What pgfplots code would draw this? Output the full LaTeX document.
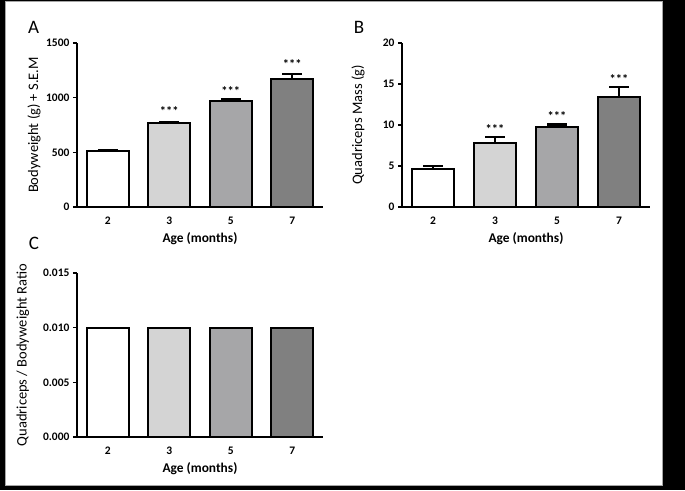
\documentclass[border=0pt]{standalone}
\usepackage{fontspec}
\setmainfont{Carlito}
\usepackage{pgfplots}
\pgfplotsset{compat=1.18}

\definecolor{gtwo}{HTML}{FFFFFF}
\definecolor{gthree}{HTML}{D4D4D4}
\definecolor{gfive}{HTML}{A6A6A8}
\definecolor{gseven}{HTML}{808080}

\tikzset{stars/.style={font=\bfseries\fontsize{12.5}{14}\selectfont}}

\pgfplotsset{
  panel/.style={
    scale only axis, width=246pt, height=164pt,
    xmin=-0.5, xmax=3.5, ymin=0,
    axis x line*=bottom, axis y line*=left,
    axis line style={line width=1.4pt, -},
    xtick={0,1,2,3}, xticklabels={2,3,5,7},
    x tick style={draw=none},
    y tick style={line width=1.2pt, black},
    tick align=outside, major tick length=4pt,
    tick label style={font=\bfseries\fontsize{11.5}{13}\selectfont},
    /pgf/number format/assume math mode=true,
    /pgf/number format/1000 sep={},
    x tick label style={anchor=center, yshift=-9.5pt},
    xlabel={Age (months)},
    every axis x label/.style={at={(axis description cs:0.5,0)}, anchor=center, yshift=-32pt,
      font=\bfseries\fontsize{13.4}{15}\selectfont},
    ylabel style={font=\fontsize{14.5}{16}\selectfont, anchor=center},
  },
  agebar/.style={ybar, bar shift=0pt, bar width=0.68, draw=black, line width=2.2pt, fill=#1},
  witherr/.style={error bars/.cd, y dir=plus, y explicit,
    error bar style={line width=2.2pt},
    error mark options={rotate=90, line width=2.2pt, mark size=10pt}},
}

\begin{document}
\begin{tikzpicture}[x=1pt, y=1pt]
\fill[black] (0,0) rectangle (685,490);
\filldraw[fill=white, draw=gray!70, line width=1pt] (5,5) rectangle (662,488);

\node[font=\fontsize{19}{22}\selectfont] at (33.5,463) {A};
\node[font=\fontsize{19}{22}\selectfont] at (359,462.5) {B};
\node[font=\fontsize{19}{22}\selectfont] at (34,247) {C};

% A: bodyweight
\begin{axis}[panel, at={(77pt,283pt)}, anchor=south west,
    ymax=1500, ytick={0,500,1000,1500},
    ylabel={Bodyweight (g) + S.E.M},
    ylabel style={at={(axis description cs:-0.175,0.5)}}]
\addplot[agebar=gtwo, witherr] coordinates {(0,510) +- (0,10)};
\addplot[agebar=gthree, witherr] coordinates {(1,765) +- (0,15)};
\addplot[agebar=gfive, witherr] coordinates {(2,970) +- (0,15)};
\addplot[agebar=gseven, witherr] coordinates {(3,1168) +- (0,50)};
\node[stars] at (axis cs:1,880) {***};
\node[stars] at (axis cs:2,1062) {***};
\node[stars] at (axis cs:3,1310) {***};
\end{axis}

% B: quadriceps mass
\begin{axis}[panel, width=248pt, at={(402pt,283pt)}, anchor=south west,
    ymax=20, ytick={0,5,10,15,20},
    ylabel={Quadriceps Mass (g)},
    ylabel style={at={(axis description cs:-0.177,0.5)}}]
\addplot[agebar=gtwo, witherr] coordinates {(0,4.65) +- (0,0.35)};
\addplot[agebar=gthree, witherr] coordinates {(1,7.85) +- (0,0.65)};
\addplot[agebar=gfive, witherr] coordinates {(2,9.8) +- (0,0.25)};
\addplot[agebar=gseven, witherr] coordinates {(3,13.4) +- (0,1.2)};
\node[stars] at (axis cs:1,9.5) {***};
\node[stars] at (axis cs:2,11.1) {***};
\node[stars] at (axis cs:3,15.6) {***};
\end{axis}

% C: ratio
\begin{axis}[panel, at={(77pt,53pt)}, anchor=south west,
    ymax=0.015, ytick={0,0.005,0.010,0.015},
    yticklabel style={/pgf/number format/.cd, fixed, fixed zerofill, precision=3},
    scaled y ticks=false,
    ylabel={Quadriceps / Bodyweight Ratio},
    ylabel style={at={(axis description cs:-0.22,0.5)}}]
\addplot[agebar=gtwo] coordinates {(0,0.010)};
\addplot[agebar=gthree] coordinates {(1,0.010)};
\addplot[agebar=gfive] coordinates {(2,0.010)};
\addplot[agebar=gseven] coordinates {(3,0.010)};
\end{axis}
\end{tikzpicture}
\end{document}
